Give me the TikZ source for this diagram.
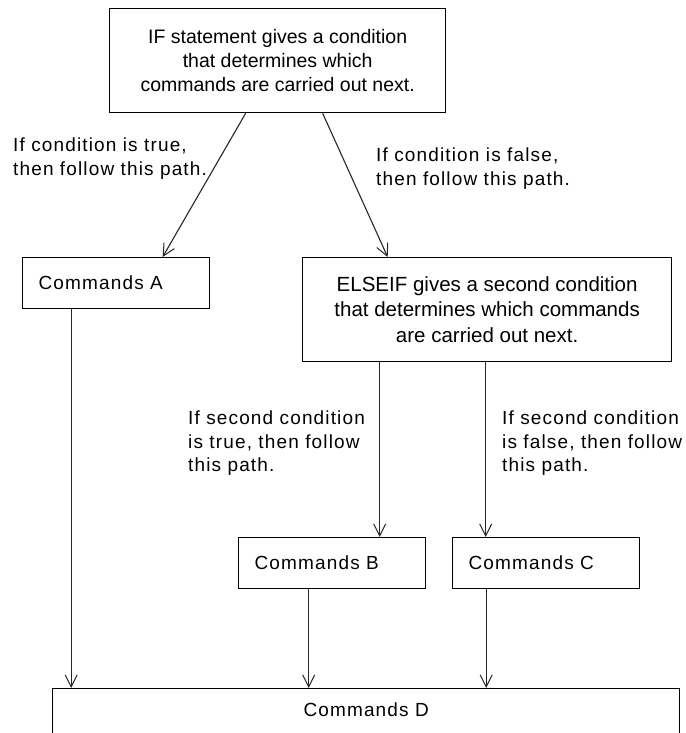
\documentclass[tikz,border=0pt]{standalone}
\usepackage{fontspec}
\setmainfont{Liberation Sans}
\newfontfamily\spacedfont[LetterSpace=6]{Liberation Sans}
\usetikzlibrary{arrows.meta}
\begin{document}
\begin{tikzpicture}[x=1pt,y=-1pt,
  box/.style={draw=black, line width=1.3pt, inner sep=0pt, anchor=north west, align=center},
  cmdbox/.style={box, minimum width=187pt, minimum height=51pt, text width=155pt, align=left,
    font=\spacedfont\fontsize{19}{23}\selectfont},
  note/.style={anchor=north west, inner sep=0pt, align=left,
    font=\spacedfont\fontsize{19}{23.5}\selectfont},
  flow/.style={draw=black!85, line width=1.1pt,
    -{Straight Barb[length=12pt,width=12pt,line width=1pt]}},
]
\useasboundingbox (0,0) rectangle (685,733);
\clip (0,0) rectangle (685,733);

% decision boxes
\node[box, minimum width=336pt, minimum height=104pt,
      font=\fontsize{19.5}{24}\selectfont] (ifbox) at (109,8)
  {IF statement gives a condition\\that determines which\\commands are carried out next.};
\node[box, minimum width=369pt, minimum height=104pt,
      font=\fontsize{20.5}{25.5}\selectfont] (elif) at (302,257)
  {ELSEIF gives a second condition\\that determines which commands\\are carried out next.};

% command boxes
\node[cmdbox] (cmdA) at (22,257) {Commands A};
\node[cmdbox] (cmdB) at (238,537) {Commands B};
\node[cmdbox] (cmdC) at (452,537) {Commands C};
\node[draw=black, line width=1.3pt, anchor=north west, minimum width=627pt,
      inner xsep=0pt, inner ysep=14pt, text height=14pt, text depth=40pt,
      font=\spacedfont\fontsize{19}{23}\selectfont] (cmdD) at (52,688) {Commands D};

% path notes
\node[note] (noteT) at (13,138) {If condition is true,\\then follow this path.};
\node[note] (noteF) at (376,148) {If condition is false,\\then follow this path.};
\node[note] (noteT2) at (188,411) {If second condition\\is true, then follow\\this path.};
\node[note] (noteF2) at (502,411) {If second condition\\is false, then follow\\this path.};

% connectors
\draw[flow] ([xshift=-32pt]ifbox.south) -- ([xshift=46.5pt]cmdA.north);
\draw[flow] ([xshift=45pt]ifbox.south) -- ([xshift=-99.5pt]elif.north);
\draw[flow] ([xshift=-107.5pt]elif.south) -- ([xshift=-107.5pt]elif.south |- cmdB.north);
\draw[flow] ([xshift=-1.5pt]elif.south) -- ([xshift=-1.5pt]elif.south |- cmdC.north);
\draw[flow] ([xshift=-45pt]cmdA.south) -- ([xshift=-45pt]cmdA.south |- cmdD.north);
\draw[flow] ([xshift=-23.5pt]cmdB.south) -- ([xshift=-23.5pt]cmdB.south |- cmdD.north);
\draw[flow] ([xshift=-60pt]cmdC.south) -- ([xshift=-60pt]cmdC.south |- cmdD.north);
\end{tikzpicture}
\end{document}
